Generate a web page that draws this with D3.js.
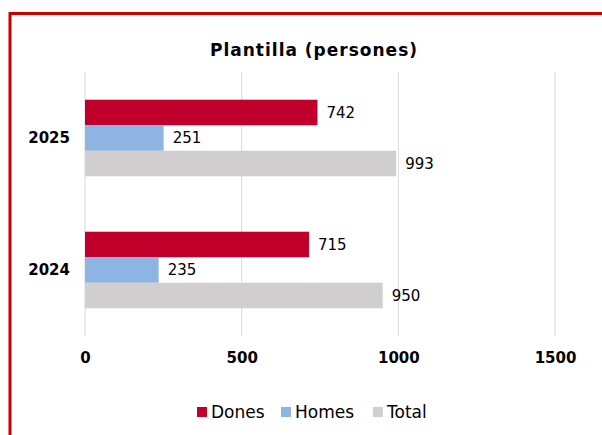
<!DOCTYPE html>
<html>
<head>
<meta charset="utf-8">
<script src="https://cdn.jsdelivr.net/npm/d3@7"></script>
<style>
  body { margin: 0; background: #fff; }
  svg { display: block; font-family: "DejaVu Sans", Verdana, sans-serif; }
</style>
</head>
<body>
<svg id="chart"></svg>
<script>
const years = ["2025", "2024"];
const series = ["Dones", "Homes", "Total"];
const dones = [742, 715];
const homes = [251, 235];
const total = [993, 950];
const xTicks = [0, 500, 1000, 1500];

const colors = { Dones: "#C0002A", Homes: "#8EB4E3", Total: "#D0CECE" };

const width = 602;
const height = 435;

// rows for each year, bars in series order
const rows = years.map((y, i) => ({
    year: y,
    values: [
        { key: "Dones", value: dones[i] },
        { key: "Homes", value: homes[i] },
        { key: "Total", value: total[i] }
    ]
}));

const svg = d3.select("#chart")
    .attr("width", width)
    .attr("height", height);

// red frame (cropped on the right and bottom)
svg.append("path")
    .attr("d", `M10,${height + 5} V13.5 H${width + 5}`)
    .attr("fill", "none")
    .attr("stroke", "#C80000")
    .attr("stroke-width", 3);

const x = d3.scaleLinear()
    .domain([0, 1500])
    .range([85, 555]);

const y = d3.scaleBand()
    .domain(years)
    .range([72, 336])
    .paddingInner(0.42)
    .paddingOuter(0.21);

const ySub = d3.scaleBand()
    .domain(series)
    .range([0, y.bandwidth()]);

// title
svg.append("text")
    .attr("x", 314)
    .attr("y", 56)
    .attr("text-anchor", "middle")
    .attr("font-size", 17)
    .attr("font-weight", "bold")
    .attr("letter-spacing", 1)
    .attr("fill", "#000")
    .text("Plantilla (persones)");

// grid lines
svg.append("g")
    .selectAll("line")
    .data(xTicks)
    .join("line")
    .attr("x1", d => x(d))
    .attr("x2", d => x(d))
    .attr("y1", 72)
    .attr("y2", 336)
    .attr("stroke", "#D9D9D9")
    .attr("stroke-width", 1);

// x axis labels
svg.append("g")
    .attr("transform", "translate(0,363)")
    .call(d3.axisBottom(x).tickValues(xTicks).tickSize(0).tickPadding(0).tickFormat(d3.format("d")))
    .call(g => g.select(".domain").remove())
    .call(g => g.selectAll("text")
        .attr("dy", 0)
        .attr("font-family", "DejaVu Sans, Verdana, sans-serif")
        .attr("font-size", 15)
        .attr("font-weight", "bold")
        .attr("fill", "#000"));

// y axis labels
svg.append("g")
    .attr("transform", "translate(70,0)")
    .call(d3.axisLeft(y).tickSize(0).tickPadding(0))
    .call(g => g.select(".domain").remove())
    .call(g => g.selectAll("text")
        .attr("dy", "0.35em")
        .attr("font-family", "DejaVu Sans, Verdana, sans-serif")
        .attr("font-size", 15)
        .attr("font-weight", "bold")
        .attr("fill", "#000"));

// bars
const group = svg.append("g")
    .selectAll("g")
    .data(rows)
    .join("g")
    .attr("transform", d => `translate(0,${y(d.year)})`);

group.selectAll("rect")
    .data(d => d.values)
    .join("rect")
    .attr("x", x(0))
    .attr("y", d => ySub(d.key))
    .attr("width", d => x(d.value) - x(0))
    .attr("height", ySub.bandwidth())
    .attr("fill", d => colors[d.key]);

group.selectAll("text")
    .data(d => d.values)
    .join("text")
    .attr("x", d => x(d.value) + 9)
    .attr("y", d => ySub(d.key) + ySub.bandwidth() / 2)
    .attr("dy", "0.36em")
    .attr("font-size", 15)
    .attr("fill", "#000")
    .text(d => d.value);

// legend
const legendX = { Dones: 197, Homes: 281, Total: 373 };
const legend = svg.append("g")
    .selectAll("g")
    .data(series)
    .join("g")
    .attr("transform", d => `translate(${legendX[d]},412)`);

legend.append("rect")
    .attr("x", 0)
    .attr("y", -5)
    .attr("width", 10)
    .attr("height", 10)
    .attr("fill", d => colors[d]);

legend.append("text")
    .attr("x", 14)
    .attr("y", 0)
    .attr("dy", "0.36em")
    .attr("font-size", 17)
    .attr("fill", "#000")
    .text(d => d);
</script>
</body>
</html>
